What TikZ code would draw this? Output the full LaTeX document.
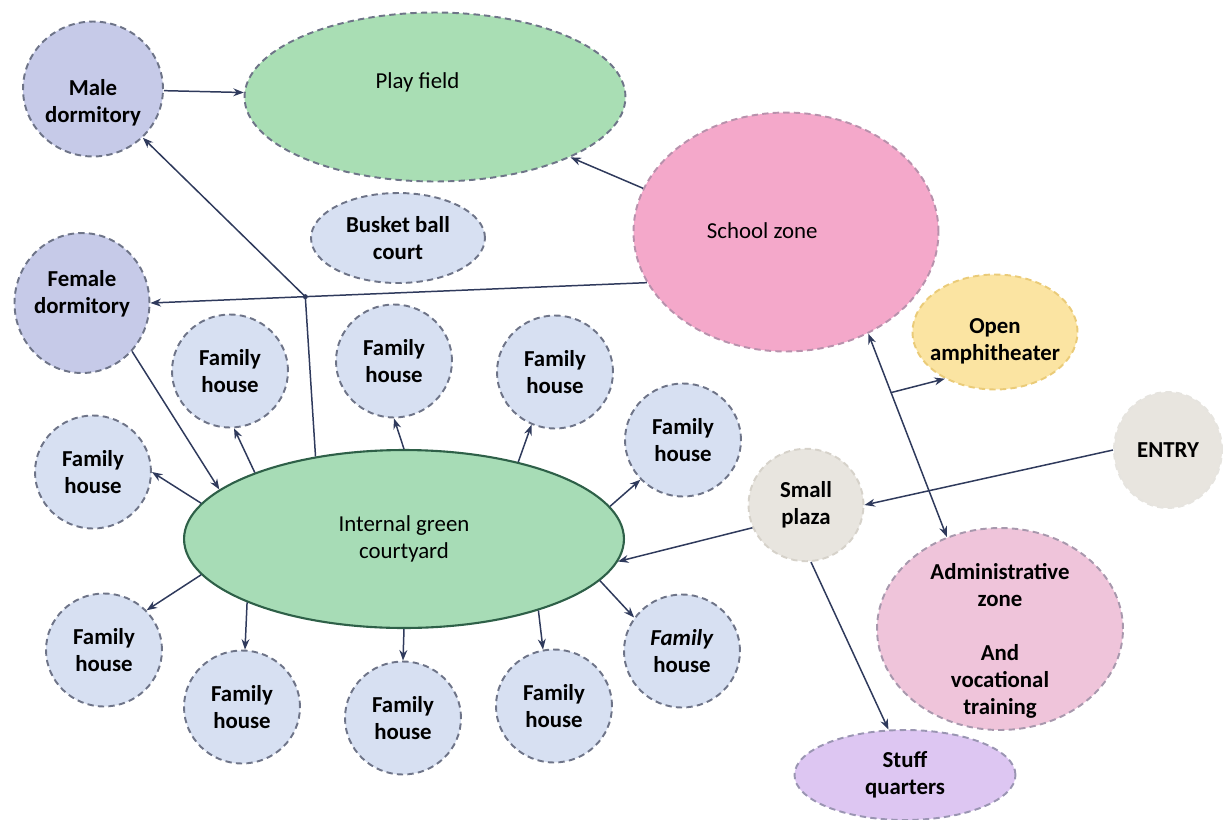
\documentclass[tikz,border=0pt]{standalone}
\usepackage{fontspec}
\setmainfont{Carlito}
\usetikzlibrary{shapes.geometric,arrows.meta}

\definecolor{edgeblue}{HTML}{2F3A5C}
\definecolor{dashgray}{HTML}{6E7488}
\definecolor{houseblue}{HTML}{D7E0F2}
\definecolor{dormblue}{HTML}{C6CAE8}
\definecolor{fieldgreen}{HTML}{A9DEB4}
\definecolor{courtgreen}{HTML}{A7DCB6}
\definecolor{courtline}{HTML}{2E6048}
\definecolor{schoolpink}{HTML}{F4A8CA}
\definecolor{adminpink}{HTML}{EFC4DA}
\definecolor{amphyellow}{HTML}{FBE4A2}
\definecolor{amphline}{HTML}{EACB78}
\definecolor{plazagray}{HTML}{E8E5DF}
\definecolor{plazaline}{HTML}{D6D2CA}
\definecolor{stufflilac}{HTML}{DDC6F2}

\tikzset{
    zone/.style={ellipse, draw=dashgray, line width=1.1pt,
        dash pattern=on 3.6pt off 2.4pt, inner sep=0pt, align=center,
        font=\fontsize{13}{15.4}\selectfont\bfseries},
    zlabel/.style={align=center, inner sep=0pt,
        font=\fontsize{13}{15.4}\selectfont\bfseries},
    house/.style={zone, fill=houseblue, minimum width=2.32cm,
        minimum height=2.26cm},
    dorm/.style={zone, fill=dormblue},
    conn/.style={draw=edgeblue, line width=0.85pt, -{Stealth[length=6pt,width=4.5pt]}}
}

\begin{document}
\begin{tikzpicture}[x=0.02cm,y=-0.02cm]

% Page size (pixels of the sketch)
\useasboundingbox (0,0) rectangle (1225,819);

% Large zones
\node[zone, font=\fontsize{13}{15.4}\selectfont, fill=fieldgreen,
    minimum width=7.62cm, minimum height=3.38cm]
    (play) at (435,97) {\raisebox{19pt}{Play field\hspace{0.7cm}}};
\node[zone, font=\fontsize{13}{15.4}\selectfont, fill=schoolpink,
    draw=schoolpink!55!dashgray, minimum width=6.1cm, minimum height=4.78cm]
    (school) at (786,232) {\raisebox{2pt}{School zone\hspace{0.95cm}}};
\node[ellipse, draw=courtline, line width=1.2pt, fill=courtgreen, align=center,
    font=\fontsize{13}{15.4}\selectfont, minimum width=8.8cm,
    minimum height=3.56cm] (court) at (404,539) {Internal green\\courtyard};
\node[zone, fill=adminpink, draw=adminpink!45!dashgray, minimum width=4.92cm,
    minimum height=4.04cm,
    label={[zlabel, yshift=-0.24cm]center:Administrative\\zone\\[15.4pt]And\\vocational\\training}]
    (admin) at (1000,629) {};

% Smaller zones
\node[dorm, minimum width=2.8cm, minimum height=2.7cm,
    label={[zlabel, yshift=-0.28cm]center:Male\\dormitory}] (male) at (93,89) {};
\node[dorm, minimum width=2.7cm, minimum height=2.8cm,
    label={[zlabel, yshift=0.19cm]center:Female\\dormitory}] (female) at (82,303) {};
\node[zone, fill=houseblue, minimum width=3.48cm, minimum height=1.8cm]
    (bball) at (398,238) {Busket ball\\court};
\node[zone, fill=amphyellow, draw=amphline, minimum width=3.3cm,
    minimum height=2.3cm,
    label={[zlabel, yshift=-0.18cm]center:Open\\amphitheater}] (amph) at (995,332) {};
\node[zone, fill=plazagray, draw=plazaline!60!white, minimum width=2.16cm,
    minimum height=2.32cm] (entry) at (1168,450) {ENTRY};
\node[zone, fill=plazagray, draw=plazaline, minimum width=2.3cm,
    minimum height=2.25cm] (plaza) at (806,505) {Small\\plaza};
\node[zone, fill=stufflilac, draw=stufflilac!40!dashgray, minimum width=4.42cm,
    minimum height=1.8cm] (stuff) at (905,775) {Stuff\\quarters};

% Family houses round the courtyard
\node[house] (h1) at (230,371) {Family\\house};
\node[house] (h2) at (394,361) {Family\\house};
\node[house] (h3) at (555,372) {Family\\house};
\node[house] (h4) at (683,440) {Family\\house};
\node[house] (h5) at (93,472) {Family\\house};
\node[house] (h6) at (104,650) {Family\\house};
\node[house] (h7) at (242,707) {Family\\house};
\node[house] (h8) at (403,718) {Family\\house};
\node[house] (h9) at (554,706) {Family\\house};
\node[house] (h10) at (682,651) {\textit{Family}\\house};

% Links
\draw[conn] (male) -- (play);
\draw[conn] (school.163) -- (play.336);
\draw[conn] (school.200) -- (female.east) coordinate[pos=0.688] (jn);
\fill[edgeblue] (jn) circle (2.5);
\draw[conn] (court.137) -- (jn) -- (male);
\draw[conn] (female.316) -- (court.165);

\foreach \a/\h/\b in {156/h1/274, 90/h2/270, 34/h3/246, 9/h4/223,
    170/h5/0, 190/h6/43, 202/h7/87, 270/h8/90, 332/h9/101, 348/h10/145}
    \draw[conn] (court.\a) -- (\h.\b);

\draw[conn] (entry.west) -- (plaza.east);
\draw[conn] (plaza.203) -- (court.354);
\draw[conn] (plaza.275) -- (stuff.110);
\draw[conn, {Stealth[length=6pt,width=4.5pt]}-{Stealth[length=6pt,width=4.5pt]}]
    (school.309) -- (admin.120) coordinate[pos=0.29] (am);
\draw[conn] (am) -- (amph.223);

\end{tikzpicture}
\end{document}
